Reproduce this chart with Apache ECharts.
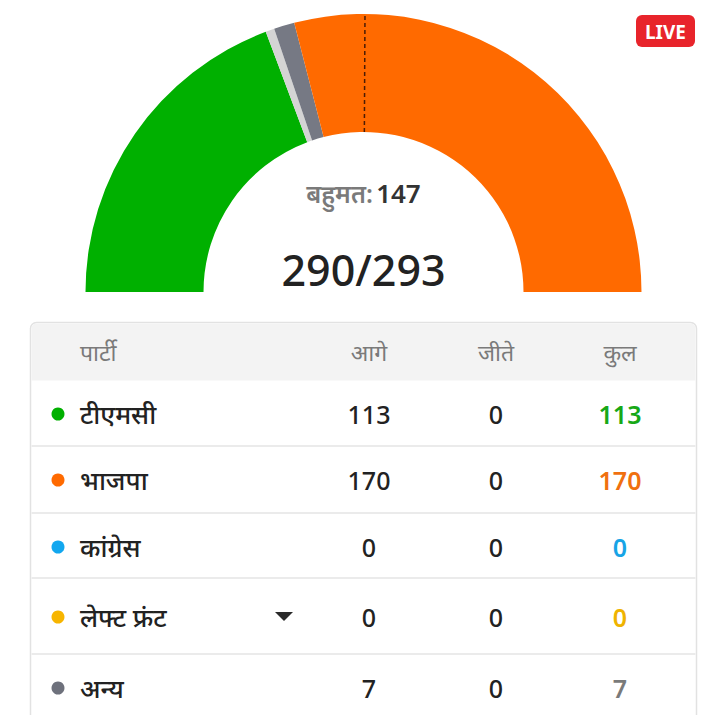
<!DOCTYPE html>
<html><head><meta charset="utf-8">
<script src="https://cdn.jsdelivr.net/npm/echarts@6/dist/echarts.min.js"></script>
<style>html,body{margin:0;padding:0;background:#fff}#c{width:727px;height:715px}</style>
</head><body><div id="c"></div>
<script>
// ---- data ----
const parties = ['टीएमसी', 'भाजपा', 'कांग्रेस', 'लेफ्ट फ्रंट', 'अन्य'];
const leading = [113, 170, 0, 0, 7];
const won = [0, 0, 0, 0, 0];
const totals = [113, 170, 0, 0, 7];
const headers = ['पार्टी', 'आगे', 'जीते', 'कुल'];
const totalSeats = 293;
const majority = 147;
const majorityLabel = 'बहुमत:';
const countedLabel = '290/293';
// arc order (left to right): TMC, Congress, Left, remaining, Others, BJP
const arcNames = ['टीएमसी', 'कांग्रेस', 'लेफ्ट फ्रंट', 'शेष', 'अन्य', 'भाजपा'];
const arcValues = [113, 0, 0, 3, 7, 170];

// ---- styles ----
const partyColors = ['#00b000', '#ff6a00', '#12a7ef', '#f7b500', '#6e717c'];
const totalColors = ['#17a817', '#f0700f', '#17a4e6', '#efb300', '#7a7a7a'];
const arcColors = ['#00b000', '#12a7ef', '#f7b500', '#d4d4d4', '#767984', '#ff6a00'];
const FONT = '"Noto Sans", "Noto Sans Devanagari", "Lohit Devanagari", sans-serif';

const cx = 363.5, cy = 292, rIn = 160, rOut = 278;

const chart = echarts.init(document.getElementById('c'), null, {renderer: 'svg'});

const pieData = arcNames.map((n, i) => ({name: n, value: arcValues[i], itemStyle: {color: arcColors[i]}}))
  .filter(d => d.value > 0);

// majority marker
const a = majority / totalSeats * Math.PI;
const mx1 = cx - rIn * Math.cos(a), my1 = cy - rIn * Math.sin(a);
const mx2 = cx - rOut * Math.cos(a), my2 = cy - rOut * Math.sin(a);

const g = [];
g.push({type: 'line', shape: {x1: mx1, y1: my1, x2: mx2, y2: my2},
  style: {stroke: '#4a1c06', lineWidth: 1.5, lineDash: [4, 3]}, z: 10});
g.push({type: 'text', x: cx, y: 193,
  style: {text: '{a|' + majorityLabel + '} {b|' + majority + '}', align: 'center', verticalAlign: 'middle',
    rich: {a: {fontSize: 25, fontFamily: FONT, fill: '#7a7a7a', fontWeight: 600},
           b: {fontSize: 26, fontFamily: FONT, fill: '#333', fontWeight: 600}}}});
g.push({type: 'text', x: cx, y: 269,
  style: {text: countedLabel, align: 'center', verticalAlign: 'middle', fontSize: 43, fontWeight: 500,
    fontFamily: FONT, fill: '#222'}});
// LIVE badge
g.push({type: 'rect', shape: {x: 636, y: 15, width: 59, height: 32, r: 6}, style: {fill: '#e8242b'}});
g.push({type: 'text', x: 665.5, y: 31.5, style: {text: 'LIVE', align: 'center', verticalAlign: 'middle',
  fontSize: 19, fontWeight: 'bold', fontFamily: FONT, fill: '#fff'}});

// table
const tX = 30.5, tW = 666, tY = 322.5;
g.push({type: 'rect', shape: {x: tX, y: tY, width: tW, height: 440, r: 6},
  style: {fill: '#fff', stroke: '#e2e2e2', lineWidth: 1.5}, z: 1});
g.push({type: 'rect', shape: {x: tX + 1, y: tY + 1, width: tW - 2, height: 57, r: [5, 5, 0, 0]},
  style: {fill: '#f3f3f3'}, z: 2});
const colX = [80, 369, 496, 620];
headers.forEach((h, i) => g.push({type: 'text', x: colX[i], y: 352, z: 3,
  style: {text: h, align: i === 0 ? 'left' : 'center', verticalAlign: 'middle', fontSize: 23,
    fontFamily: FONT, fill: '#7a7a7a'}}));
const rowY = [414, 480, 547, 617, 688];
const sepY = [446, 513, 578, 654];
sepY.forEach(y => g.push({type: 'line', z: 3, shape: {x1: tX + 1, y1: y, x2: tX + tW - 1, y2: y},
  style: {stroke: '#ebebeb', lineWidth: 2}}));
parties.forEach((p, i) => {
  const y = rowY[i];
  g.push({type: 'circle', z: 3, shape: {cx: 58, cy: y, r: 6.5}, style: {fill: partyColors[i]}});
  g.push({type: 'text', z: 3, x: 80, y: y, style: {text: p, align: 'left', verticalAlign: 'middle',
    fontSize: 26, fontWeight: 500, fontFamily: FONT, fill: '#222'}});
  g.push({type: 'text', z: 3, x: colX[1], y: y, style: {text: String(leading[i]), align: 'center',
    verticalAlign: 'middle', fontSize: 25, fontWeight: 500, fontFamily: FONT, fill: '#222'}});
  g.push({type: 'text', z: 3, x: colX[2], y: y, style: {text: String(won[i]), align: 'center',
    verticalAlign: 'middle', fontSize: 25, fontWeight: 500, fontFamily: FONT, fill: '#222'}});
  g.push({type: 'text', z: 3, x: colX[3], y: y, style: {text: String(totals[i]), align: 'center',
    verticalAlign: 'middle', fontSize: 25, fontWeight: 600, fontFamily: FONT, fill: totalColors[i]}});
});
// dropdown triangle
g.push({type: 'polygon', z: 3, shape: {points: [[275, 612], [293, 612], [284, 621]]}, style: {fill: '#2a2a2a'}});

chart.setOption({
  animation: false,
  backgroundColor: '#fff',
  series: [{
    type: 'pie',
    center: [cx, cy],
    radius: [rIn, rOut],
    startAngle: 180,
    endAngle: 0,
    clockwise: true,
    silent: true,
    label: {show: false},
    labelLine: {show: false},
    itemStyle: {borderWidth: 0},
    data: pieData
  }],
  graphic: g
});
</script></body></html>
